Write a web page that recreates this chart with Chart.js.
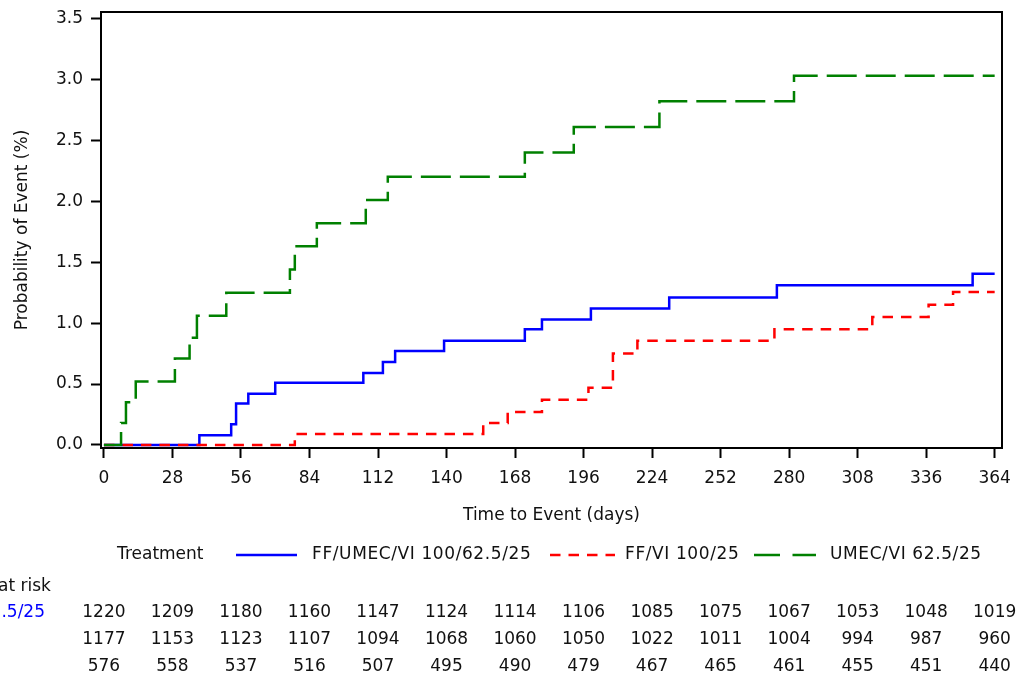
<!DOCTYPE html>
<html>
<head>
<meta charset="utf-8">
<script src="https://cdn.jsdelivr.net/npm/chart.js@4.4.1/dist/chart.umd.min.js"></script>
<style>
  html, body { margin: 0; padding: 0; background: #fff; }
  #wrap { width: 1018px; height: 677px; }
</style>
</head>
<body>
<div id="wrap"><canvas id="km" width="1018" height="677"></canvas></div>
<script>
// ---- data ----
const xTicks = [0, 28, 56, 84, 112, 140, 168, 196, 224, 252, 280, 308, 336, 364];
const yTicks = [0, 0.5, 1.0, 1.5, 2.0, 2.5, 3.0, 3.5];

const tripleDays = [0, 39, 52, 54, 59, 70, 106, 114, 119, 139, 172, 179, 199, 231, 275, 355, 364];
const tripleProb = [0, 0.08, 0.17, 0.34, 0.42, 0.51, 0.59, 0.68, 0.77, 0.855, 0.95, 1.03, 1.12, 1.21, 1.31, 1.405, 1.405];

const dualDays = [0, 78, 155, 165, 179, 198, 208, 218, 274, 314, 337, 347, 364];
const dualProb = [0, 0.09, 0.18, 0.27, 0.37, 0.47, 0.75, 0.855, 0.95, 1.05, 1.15, 1.255, 1.255];

const umecDays = [0, 7, 9, 13, 29, 35, 38, 50, 76, 78, 87, 107, 116, 172, 192, 227, 282, 364];
const umecProb = [0, 0.18, 0.35, 0.52, 0.71, 0.88, 1.06, 1.25, 1.44, 1.63, 1.82, 2.01, 2.20, 2.40, 2.61, 2.82, 3.03, 3.03];

const treatments = ["FF/UMEC/VI 100/62.5/25", "FF/VI 100/25", "UMEC/VI 62.5/25"];
const riskTriple = [1220, 1209, 1180, 1160, 1147, 1124, 1114, 1106, 1085, 1075, 1067, 1053, 1048, 1019];
const riskDual = [1177, 1153, 1123, 1107, 1094, 1068, 1060, 1050, 1022, 1011, 1004, 994, 987, 960];
const riskUmec = [576, 558, 537, 516, 507, 495, 490, 479, 467, 465, 461, 455, 451, 440];

const FONT = "DejaVu Sans";
const colors = ["#0000ff", "#ff0000", "#008000"];
const dashes = [[], [10.5, 8], [30, 9]];

const toPts = (days, prob) => days.map((d, i) => ({ x: d, y: prob[i] }));

// frame round the plot, legend row and the at-risk table
const extras = {
  id: "extras",
  afterDraw(chart) {
    const { ctx, chartArea: a } = chart;
    const xs = chart.scales.x;
    ctx.save();
    ctx.strokeStyle = "#000";
    ctx.lineWidth = 2;
    ctx.setLineDash([]);
    ctx.strokeRect(a.left, a.top, a.right - a.left, a.bottom - a.top);

    ctx.font = "17px " + FONT;
    ctx.textBaseline = "middle";
    ctx.fillStyle = "#111";

    // legend
    const ly = 555;
    ctx.textAlign = "left";
    ctx.fillText("Treatment", 117, ly);
    const samples = [[236, 297, 312, []], [550, 615, 625, [10.5, 8]], [754, 816, 830, [26, 12.5]]];
    ctx.letterSpacing = "0.6px";
    samples.forEach((s, i) => {
      ctx.beginPath();
      ctx.strokeStyle = colors[i];
      ctx.lineWidth = 2.5;
      ctx.setLineDash(s[3]);
      ctx.moveTo(s[0], ly);
      ctx.lineTo(s[1], ly);
      ctx.stroke();
      ctx.fillStyle = "#111";
      ctx.fillText(treatments[i], s[2], ly);
    });
    ctx.letterSpacing = "0px";
    ctx.setLineDash([]);

    // number at risk
    ctx.fillText("Number at risk", -ctx.measureText("Number ").width - 2, 587);
    const labelX = 45 - ctx.measureText(treatments[0]).width;
    const rows = [riskTriple, riskDual, riskUmec];
    const rowY = [613, 640, 667];
    rows.forEach((row, r) => {
      ctx.textAlign = "left";
      ctx.fillStyle = colors[r];
      ctx.fillText(treatments[r], labelX, rowY[r]);
      ctx.textAlign = "center";
      ctx.fillStyle = "#111";
      row.forEach((n, i) => ctx.fillText(String(n), xs.getPixelForValue(xTicks[i]), rowY[r]));
    });
    ctx.restore();
  }
};

const mkSet = (label, days, prob, i, order) => ({
  label,
  data: toPts(days, prob),
  borderColor: colors[i],
  backgroundColor: colors[i],
  borderWidth: 2.5,
  borderDash: dashes[i],
  borderCapStyle: "butt",
  stepped: "before",
  pointRadius: 0,
  fill: false,
  order
});

new Chart(document.getElementById("km"), {
  type: "line",
  data: {
    datasets: [
      mkSet(treatments[0], tripleDays, tripleProb, 0, 2),
      mkSet(treatments[1], dualDays, dualProb, 1, 1),
      mkSet(treatments[2], umecDays, umecProb, 2, 0)
    ]
  },
  options: {
    responsive: false,
    animation: false,
    layout: { padding: { left: 0, right: 16, top: 12, bottom: 147 } },
    plugins: { legend: { display: false }, tooltip: { enabled: false } },
    scales: {
      x: {
        type: "linear",
        min: -1.2,
        max: 367,
        afterFit: (s) => { s.height = 82; s.paddingLeft = 0; s.paddingRight = 0; },
        afterBuildTicks: (s) => { s.ticks = xTicks.map((v) => ({ value: v })); },
        grid: { display: true, drawOnChartArea: false, drawTicks: true, tickLength: 10, tickWidth: 2, tickColor: "#000" },
        border: { display: true, color: "#000", width: 2 },
        ticks: { color: "#111", font: { family: FONT, size: 17 }, padding: 10, maxRotation: 0, autoSkip: false },
        title: { display: true, text: "Time to Event (days)", color: "#111", font: { family: FONT, size: 17 }, padding: { top: 4, bottom: 4 } }
      },
      y: {
        min: -0.025,
        max: 3.553,
        afterFit: (s) => { s.width = 101; s.paddingTop = 0; s.paddingBottom = 0; },
        afterBuildTicks: (s) => { s.ticks = yTicks.map((v) => ({ value: v })); },
        grid: { display: true, drawOnChartArea: false, drawTicks: true, tickLength: 10, tickWidth: 2, tickColor: "#000" },
        border: { display: true, color: "#000", width: 2 },
        ticks: { color: "#111", font: { family: FONT, size: 17 }, padding: 8, callback: (v) => Number(v).toFixed(1) },
        title: { display: true, text: "Probability of Event (%)", color: "#111", font: { family: FONT, size: 17 }, padding: { top: 12, bottom: 0 } }
      }
    }
  },
  plugins: [extras]
});
</script>
</body>
</html>
